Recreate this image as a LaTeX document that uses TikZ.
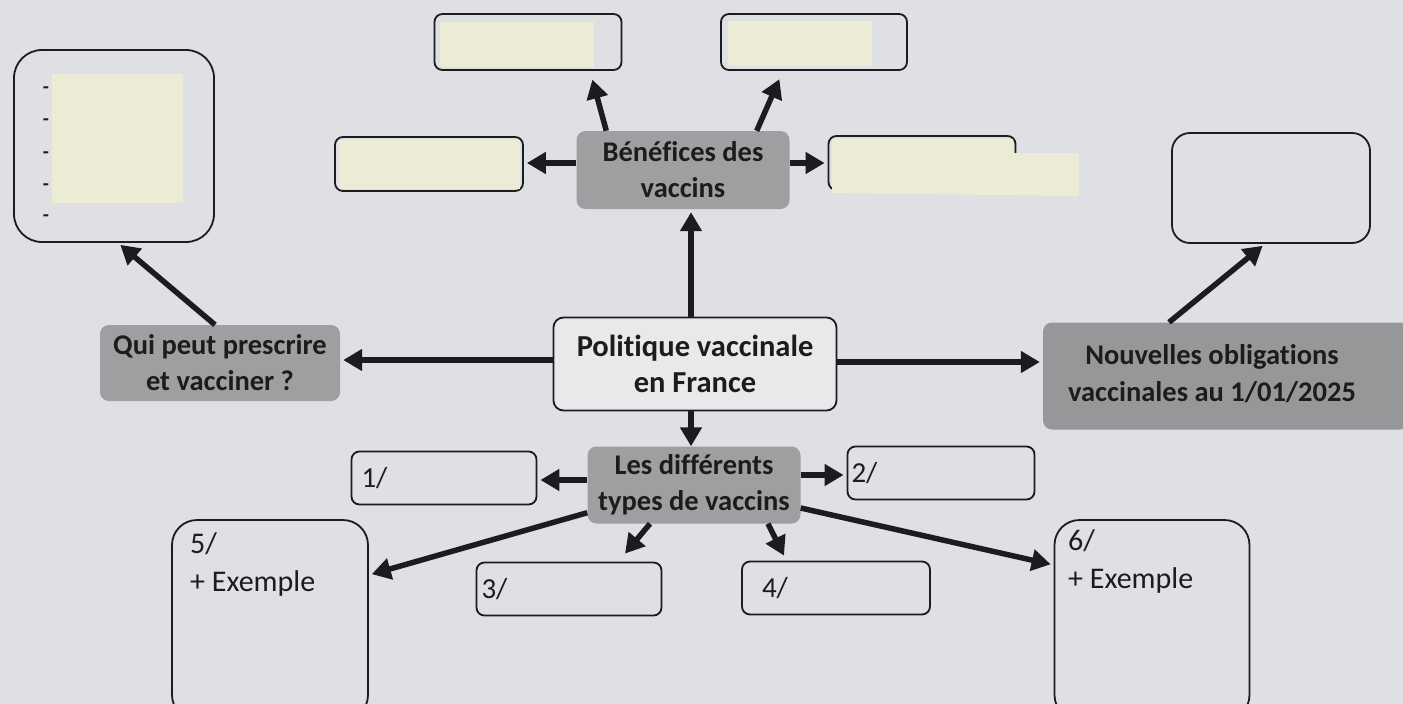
\documentclass[tikz,border=0pt]{standalone}
\usepackage{fontspec}
\setmainfont{Carlito}[Ligatures=NoCommon]
\usetikzlibrary{arrows.meta}
\definecolor{paper}{RGB}{222,224,227}
\definecolor{nodegray}{RGB}{158,159,160}
\definecolor{tape}{RGB}{236,235,214}
\definecolor{ink}{RGB}{28,28,30}
\begin{document}
\begin{tikzpicture}[x=1pt,y=-1pt,
  arr/.style={draw=ink, line width=5.5pt, -{Triangle[length=19pt,width=21pt]}, shorten >=3pt},
  gbox/.style={rounded corners=9pt, fill=nodegray, inner sep=0pt, text=ink,
     font=\fontsize{28.5}{36}\selectfont\bfseries, align=center},
  wbox/.style={draw=ink, line width=1.8pt, rounded corners=8pt, inner sep=0pt, text=ink,
     font=\fontsize{29}{35}\selectfont},
  tapefill/.style={fill=tape, draw=none},
  lbl/.style={inner sep=0pt, text=ink, font=\fontsize{30}{38}\selectfont, align=left},
  dashmark/.style={inner sep=0pt, text=ink, font=\fontsize{20}{20}\selectfont\bfseries}
]
\useasboundingbox[fill=paper] (0,0) rectangle (1403,704);

% top-left box with tape
\node[wbox, rounded corners=28pt, minimum width=200pt, minimum height=192pt] (tl) at (114,146) {};
\fill[tapefill] (52,74) rectangle (183,203);
\foreach \i/\yy in {1/90,2/122,3/155,4/187,5/218}{
  \node[dashmark] (d\i) at (46,\yy) {-};
}

% benefits boxes
\node[wbox, minimum width=187pt, minimum height=56pt] (bA) at (528,42) {};
\node[wbox, minimum width=186pt, minimum height=56pt] (bB) at (814,42) {};
\node[wbox, minimum width=188pt, minimum height=54pt] (bC) at (429,164) {};
\node[wbox, minimum width=187pt, minimum height=54pt] (bD) at (922,163) {};
\fill[tapefill] (440,22) rectangle (594,67);
\fill[tapefill] (728,21) rectangle (872,66);
\fill[tapefill] (339,140) rectangle (520,189);
\fill[tapefill] (832,139) -- (1013,139) -- (1013,153) -- (1079,153) -- (1079,196) -- (832,193) -- cycle;

\node[gbox, minimum width=213pt, minimum height=78pt] (ben) at (683,170) {Bénéfices des\\vaccins};

% top right box
\node[wbox, rounded corners=18pt, minimum width=198pt, minimum height=110pt] (tr) at (1271,188) {};

% central
\node[wbox, fill=white!30!paper, rounded corners=10pt, minimum width=283pt, minimum height=93pt,
  font=\fontsize{30.5}{36}\selectfont\bfseries, align=center] (pol) at (695,364) {Politique vaccinale\\en France};
\node[gbox, minimum width=240pt, minimum height=76pt] (qui) at (220,363) {Qui peut prescrire\\et vacciner ?};
\node[gbox, fill=nodegray!95!black, minimum width=366pt, minimum height=107pt, align=none] (nou) at (1226,376)
  {\begin{tabular}{@{}c@{}}Nouvelles obligations\\[1pt]vaccinales au 1/01/2025\end{tabular}\hspace*{28pt}};

% types
\node[gbox, minimum width=213pt, minimum height=77pt] (les) at (694,485) {Les différents\\types de vaccins};
\node[wbox, minimum width=185pt, minimum height=53pt, text width=165pt, align=left] (b1) at (444,478) {1/};
\node[wbox, minimum width=187pt, minimum height=53pt, text width=179pt, align=left] (b2) at (941,473) {2/};
\node[wbox, minimum width=185pt, minimum height=53pt, text width=175pt, align=left] (b3) at (569,589) {3/};
\node[wbox, minimum width=188pt, minimum height=53pt, text width=148pt, align=left] (b4) at (836,588) {4/};
\node[wbox, rounded corners=25pt, minimum width=196pt, minimum height=200pt] (b5) at (270,620) {};
\node[wbox, rounded corners=25pt, minimum width=195pt, minimum height=200pt] (b6) at (1152,620) {};
\node[lbl, anchor=north west] (t5) at (190,532) {5/\\+ Exemple};
\node[lbl, anchor=north west] (t6) at (1068,529) {6/\\+ Exemple};

% arrows
\draw[arr] ([xshift=-4pt]pol.north) -- ([xshift=-4pt]pol.north |- ben.south);
\draw[arr] ([yshift=4pt]pol.west) -- ([yshift=4pt]pol.west -| qui.east);
\draw[arr] ([yshift=2pt]pol.east) -- ([yshift=2pt]pol.east -| nou.west);
\draw[arr, shorten >=0pt] ([xshift=-4pt]pol.south) -- ([xshift=-4pt]pol.south |- les.north);
\draw[arr] ([xshift=-5pt]qui.north) -- ([xshift=4pt]tl.south);
\draw[arr] ([xshift=-57pt]nou.north) -- ([xshift=-6pt]tr.south);
\draw[arr, shorten >=9pt] ([xshift=30pt]ben.north west) -- ([xshift=62pt]bA.south);
\draw[arr, shorten >=9pt] ([xshift=-33pt]ben.north east) -- ([xshift=-31pt]bB.south);
\draw[arr] ([yshift=7pt]ben.west) -- ([yshift=7pt]ben.west -| bC.east);
\draw[arr] ([yshift=7pt]ben.east) -- ([yshift=7pt]ben.east -| bD.west);
\draw[arr] ([yshift=5pt]les.west) -- ([yshift=5pt]les.west -| b1.east);
\draw[arr] ([yshift=10pt]les.east) -- ([yshift=10pt]les.east -| b2.west);
\draw[arr] ([yshift=11pt]les.south west) -- ([yshift=45pt]b5.east);
\draw[arr, shorten >=0pt] ([xshift=-44pt]les.south) -- ([xshift=56pt,yshift=8pt]b3.north);
\draw[arr, shorten >=0pt] ([xshift=74pt]les.south) -- ([xshift=-52pt,yshift=5pt]b4.north);
\draw[arr] ([yshift=-23pt]les.east) -- ([yshift=55pt]b6.west);
\end{tikzpicture}
\end{document}
